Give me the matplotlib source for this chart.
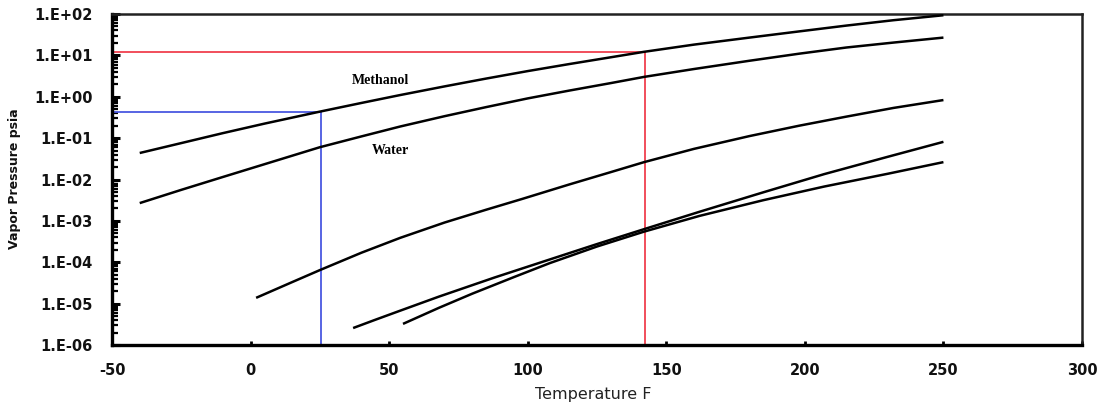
import matplotlib
matplotlib.use("Agg")
import matplotlib.pyplot as plt
from matplotlib.ticker import LogLocator, FixedLocator, NullFormatter

# ---- data ----
methanol_T = [-40, -25, -10, 5, 25, 40, 54, 70, 85, 100, 115, 130, 142, 160, 180, 198, 215, 232, 250]
methanol_P = [0.0437, 0.0759, 0.132, 0.224, 0.437, 0.708, 1.10, 1.78, 2.75, 4.17, 6.17, 9.0,
              12.2, 18.2, 26.9, 38.0, 52.5, 70.8, 93.3]

water_T = [-40, -25, -10, 5, 25, 40, 54, 70, 85, 100, 115, 130, 142, 160, 180, 198, 215, 232, 250]
water_P = [0.00269, 0.00562, 0.0115, 0.0234, 0.0603, 0.110, 0.191, 0.339, 0.562, 0.912, 1.41,
           2.14, 3.02, 4.68, 7.41, 11.0, 15.5, 20.4, 26.9]

curve3_T = [2, 15, 25, 40, 54, 70, 85, 98, 115, 130, 142, 160, 180, 198, 215, 232, 250]
curve3_P = [1.38e-5, 3.31e-5, 6.46e-5, 1.70e-4, 3.89e-4, 9.12e-4, 1.86e-3, 3.39e-3, 7.59e-3,
            0.0151, 0.0263, 0.0550, 0.112, 0.200, 0.331, 0.537, 0.832]

curve4_T = [37, 45, 54, 68, 88, 108, 125, 142, 162, 185, 207, 230, 250]
curve4_P = [2.57e-6, 4.07e-6, 6.76e-6, 1.48e-5, 4.27e-5, 1.17e-4, 2.75e-4, 6.31e-4, 1.66e-3,
            4.90e-3, 0.0135, 0.0355, 0.0813]

curve5_T = [55, 68, 80, 95, 108, 125, 142, 162, 185, 207, 230, 250]
curve5_P = [3.24e-6, 7.94e-6, 1.74e-5, 4.37e-5, 9.55e-5, 2.40e-4, 5.50e-4, 1.32e-3, 3.16e-3,
            6.76e-3, 0.0138, 0.0263]

red_T, red_P = 142.3, 12.3
blue_T, blue_P = 25.4, 0.436

x_ticks = [-50, 0, 50, 100, 150, 200, 250, 300]
y_ticks = [1e-6, 1e-5, 1e-4, 1e-3, 1e-2, 1e-1, 1e0, 1e1, 1e2]
y_tick_labels = ["1.E-06", "1.E-05", "1.E-04", "1.E-03", "1.E-02",
                 "1.E-01", "1.E+00", "1.E+01", "1.E+02"]

# ---- figure ----
fig = plt.figure(figsize=(11.02, 4.07), dpi=100)
ax = fig.add_axes([112 / 1102, 1 - 345 / 407, 970 / 1102, 331 / 407])
ax.set_yscale("log")
ax.set_xlim(-50, 300)
ax.set_ylim(1e-6, 1e2)

# reference lines
ax.plot([-50, red_T], [red_P, red_P], color="#f0404e", lw=1.3, zorder=2)
ax.plot([red_T, red_T], [1e-6, red_P], color="#f0404e", lw=1.3, zorder=2)
ax.plot([-50, blue_T], [blue_P, blue_P], color="#4a58e0", lw=1.3, zorder=2)
ax.plot([blue_T, blue_T], [1e-6, blue_P], color="#4a58e0", lw=1.3, zorder=2)

for T, P in [(methanol_T, methanol_P), (water_T, water_P), (curve3_T, curve3_P),
             (curve4_T, curve4_P), (curve5_T, curve5_P)]:
    ax.plot(T, P, color="black", lw=1.8, zorder=3, solid_capstyle="butt",
            solid_joinstyle="round")

ax.text(46.7, 2.54, "Methanol", family="Liberation Serif", weight="bold",
        fontsize=10, ha="center", va="center")
ax.text(50.3, 0.0516, "Water", family="Liberation Serif", weight="bold",
        fontsize=10, ha="center", va="center")

# axes styling
for side in ["left", "bottom"]:
    ax.spines[side].set_linewidth(2.4)
for side in ["top", "right"]:
    ax.spines[side].set_linewidth(1.8)
    ax.spines[side].set_color("#222222")

ax.xaxis.set_major_locator(FixedLocator(x_ticks))
ax.set_xticklabels([str(v) for v in x_ticks])
ax.yaxis.set_major_locator(FixedLocator(y_ticks))
ax.set_yticklabels(y_tick_labels)
ax.yaxis.set_minor_locator(LogLocator(base=10, subs=range(2, 10), numticks=20))
ax.yaxis.set_minor_formatter(NullFormatter())
ax.xaxis.set_minor_locator(FixedLocator([]))

ax.tick_params(axis="y", which="major", direction="in", length=6, width=2.2,
               pad=14, labelsize=10.5)
ax.tick_params(axis="y", which="minor", direction="in", length=4, width=1.6)
ax.tick_params(axis="x", which="major", direction="in", length=3, width=2,
               pad=13, labelsize=10.5)
for lab in ax.get_xticklabels() + ax.get_yticklabels():
    lab.set_fontweight("bold")
    lab.set_color("#111111")

fig.text(15 / 1102, 1 - 179 / 407, "Vapor Pressure psia", rotation=90,
         fontsize=9, fontweight="bold", ha="center", va="center", color="#111111")
fig.text(593.5 / 1102, 1 - 395 / 407, "Temperature F", fontsize=11.5,
         ha="center", va="center", color="#222222")

fig.savefig("out.png", dpi=100)
